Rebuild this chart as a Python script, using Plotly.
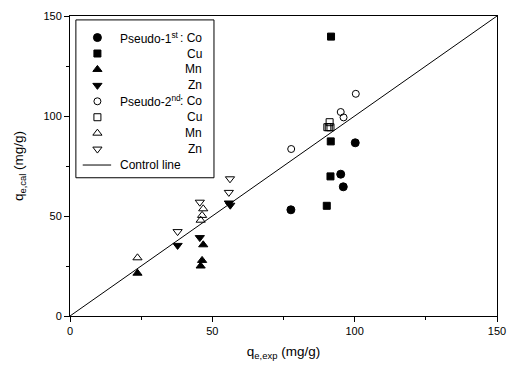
import plotly.graph_objects as go

# Pseudo-first-order (filled markers)
co1_x = [77.6, 95.1, 96.0, 100.2]
co1_y = [53.1, 70.9, 64.6, 86.6]
cu1_x = [91.7, 91.6, 91.5, 90.2]
cu1_y = [139.7, 87.3, 69.8, 55.1]
mn1_x = [23.7, 46.8, 46.4, 45.9]
mn1_y = [21.4, 35.6, 27.8, 25.0]
zn1_x = [37.8, 45.6, 55.8, 56.3]
zn1_y = [35.3, 39.2, 56.5, 55.4]

# Pseudo-second-order (open markers)
co2_x = [77.7, 95.1, 96.1, 100.4]
co2_y = [83.5, 102.0, 99.3, 111.1]
cu2_x = [91.2, 90.4, 91.5, 90.9]
cu2_y = [96.9, 94.4, 94.4, 94.4]
mn2_x = [23.7, 46.8, 46.4, 45.9]
mn2_y = [29.1, 53.6, 50.3, 47.9]
zn2_x = [37.8, 45.6, 55.8, 56.2]
zn2_y = [42.2, 56.9, 61.8, 68.6]

ctrl_x = [0, 150]
ctrl_y = [0, 150]

x_ticks = [0, 50, 100, 150]
y_ticks = [0, 50, 100, 150]

# legend texts: (left label, right label)
legend_left = ["Pseudo-1<sup>st</sup>", "", "", "", "Pseudo-2<sup>nd</sup>", "", "", ""]
legend_right = [": Co", "Cu", "Mn", "Zn", ": Co", "Cu", "Mn", "Zn"]
control_label = "Control line"

series = [
    (co1_x, co1_y, "circle", 8),
    (cu1_x, cu1_y, "square", 7),
    (mn1_x, mn1_y, "triangle-up", 8),
    (zn1_x, zn1_y, "triangle-down", 8),
    (co2_x, co2_y, "circle-open", 7),
    (cu2_x, cu2_y, "square-open", 7),
    (mn2_x, mn2_y, "triangle-up-open", 8),
    (zn2_x, zn2_y, "triangle-down-open", 8),
]

font_family = "Arial, Liberation Sans, sans-serif"

fig = go.Figure()
for xs, ys, sym, sz in series:
    fig.add_trace(go.Scatter(
        x=xs, y=ys, mode="markers", showlegend=False,
        marker=dict(symbol=sym, size=sz, color="black",
                    line=dict(color="black", width=1)),
    ))

fig.add_trace(go.Scatter(
    x=ctrl_x, y=ctrl_y, mode="lines", showlegend=False,
    line=dict(color="black", width=1),
))

# ---- custom legend drawn on an overlay axis in pixel-like units ----
LX0, LX1, LY0, LY1 = 76, 217, 14, 175
KEY_X, TXT_L, TXT_R = 98, 119, 207
ROW0, ROWGAP = 32, 16.25
rows = [ROW0 + ROWGAP * i for i in range(9)]

annotations = []
for i, (xs, ys, sym, sz) in enumerate(series):
    fig.add_trace(go.Scatter(
        x=[KEY_X], y=[rows[i]], xaxis="x2", yaxis="y2", mode="markers",
        showlegend=False, hoverinfo="skip",
        marker=dict(symbol=sym, size=sz, color="black",
                    line=dict(color="black", width=1)),
    ))
    if legend_left[i]:
        annotations.append(dict(x=TXT_L, y=rows[i], xref="x2", yref="y2",
                                text=legend_left[i], showarrow=False,
                                xanchor="left", yanchor="middle"))
    annotations.append(dict(x=TXT_R, y=rows[i], xref="x2", yref="y2",
                            text=legend_right[i], showarrow=False,
                            xanchor="right", yanchor="middle"))

fig.add_trace(go.Scatter(
    x=[83, 112], y=[rows[8], rows[8]], xaxis="x2", yaxis="y2", mode="lines",
    showlegend=False, hoverinfo="skip", line=dict(color="black", width=1),
))
annotations.append(dict(x=TXT_L, y=rows[8], xref="x2", yref="y2",
                        text=control_label, showarrow=False,
                        xanchor="left", yanchor="middle"))

shapes = [dict(type="rect", xref="x2", yref="y2", x0=LX0, x1=LX1, y0=LY0, y1=LY1,
               line=dict(color="black", width=1), fillcolor="rgba(0,0,0,0)", layer="below")]

fig.update_layout(
    width=516, height=371,
    margin=dict(l=70, r=10, t=10, b=55),
    paper_bgcolor="white", plot_bgcolor="white",
    font=dict(family=font_family, size=12, color="black"),
    showlegend=False,
    annotations=annotations,
    shapes=shapes,
    xaxis=dict(
        range=[0, 150], tickvals=x_ticks, showgrid=False, zeroline=False,
        showline=True, linecolor="black", linewidth=1, mirror=True,
        ticks="outside", ticklen=5, tickcolor="black",
        minor=dict(dtick=25, tick0=0, ticks="outside", ticklen=3, tickcolor="black"),
        title=dict(text="q<sub>e,exp</sub> (mg/g)", font=dict(size=13.5), standoff=10),
        tickfont=dict(size=11),
    ),
    yaxis=dict(
        range=[0, 150], tickvals=y_ticks, showgrid=False, zeroline=False,
        showline=True, linecolor="black", linewidth=1, mirror=True,
        ticks="outside", ticklen=5, tickcolor="black",
        minor=dict(dtick=25, tick0=0, ticks="outside", ticklen=3, tickcolor="black"),
        title=dict(text="q<sub>e,cal</sub> (mg/g)", font=dict(size=13.5), standoff=16),
        tickfont=dict(size=11),
    ),
    xaxis2=dict(overlaying="x", range=[70, 506], visible=False, fixedrange=True),
    yaxis2=dict(overlaying="y", range=[316, 10], visible=False, fixedrange=True),
)

fig.write_html("out.html")
